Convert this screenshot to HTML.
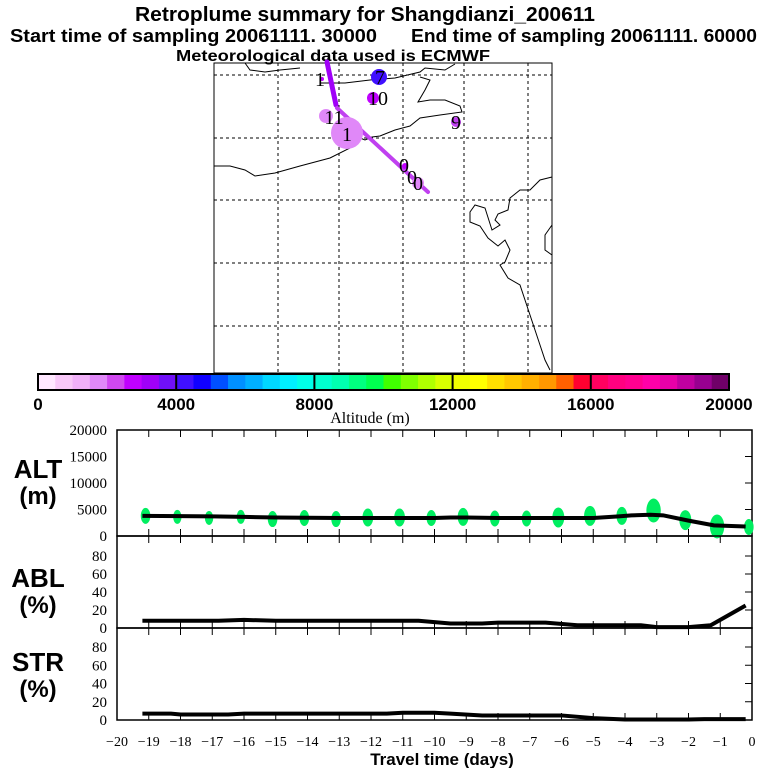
<!DOCTYPE html>
<html><head><meta charset="utf-8"><style>body{margin:0;background:#fff}svg{display:block}</style></head>
<body>
<svg id="chart" width="768" height="768" viewBox="0 0 768 768" xmlns="http://www.w3.org/2000/svg" font-family="Liberation Sans, sans-serif">
<g font-weight="bold" text-anchor="start">
<text x="135" y="21" font-size="20" textLength="460" lengthAdjust="spacingAndGlyphs">Retroplume summary for Shangdianzi_200611</text>
<text x="10" y="42" font-size="18" textLength="367" lengthAdjust="spacingAndGlyphs">Start time of sampling 20061111. 30000</text>
<text x="411" y="42" font-size="18" textLength="346" lengthAdjust="spacingAndGlyphs">End time of sampling 20061111. 60000</text>
<text x="176" y="61" font-size="16" textLength="314" lengthAdjust="spacingAndGlyphs">Meteorological data used is ECMWF</text>
</g>
<g id="map">
<rect x="214" y="63" width="338" height="310" fill="none" stroke="#000" stroke-width="1"/>
<g stroke="#000" stroke-dasharray="3,3" stroke-width="1">
<line x1="278" y1="63" x2="278" y2="373"/><line x1="339" y1="63" x2="339" y2="373"/><line x1="403" y1="63" x2="403" y2="373"/><line x1="464" y1="63" x2="464" y2="373"/><line x1="528" y1="63" x2="528" y2="373"/>
<line x1="214" y1="75" x2="552" y2="75"/><line x1="214" y1="138" x2="552" y2="138"/><line x1="214" y1="200" x2="552" y2="200"/><line x1="214" y1="263" x2="552" y2="263"/><line x1="214" y1="326" x2="552" y2="326"/>
</g>
<g fill="none" stroke="#000" stroke-width="1">
<path d="M245,63 L250,70 L265,72 L280,70 L300,68"/>
<path d="M320,83 L345,83 L370,80 L395,78 L420,72 L425,68 L445,70 L455,64"/>
<path d="M420,77 L430,80 L425,90 L418,102 L430,100 L445,100 L460,106 L462,112 L440,115 L420,118 L410,126 L395,130 L380,136 L372,137 L365,140 L360,138"/>
<path d="M214,166 L230,166 L245,170 L255,176 L275,173 L300,166 L330,158 L350,148 L358,142"/>
<path d="M552,177 L540,180 L530,190 L520,190 L510,198 L508,210 L498,214 L495,220 L500,225 L492,230 L485,208 L475,205 L470,212 L470,222 L480,226 L488,238 L498,246 L505,240 L510,250 L505,262 L500,265 L508,278 L520,285 L525,300 L530,315 L535,330 L540,345 L545,360 L550,370"/>
<path d="M552,225 L545,235 L545,250 L552,255"/>
</g>
<g stroke-linecap="round">
<line x1="327" y1="62" x2="336" y2="105" stroke="#a000f8" stroke-width="5"/>
<line x1="337" y1="108" x2="428" y2="192" stroke="#c040f0" stroke-width="4"/>
</g>
<g font-family="Liberation Serif, serif" font-size="20" text-anchor="middle">
<circle cx="347" cy="133" r="16" fill="#e088f8"/><text x="347" y="141">1</text>
<circle cx="326" cy="116" r="7" fill="#e088f8"/><text x="334" y="124">11</text>
<circle cx="379" cy="77" r="8" fill="#4010ff"/><text x="380" y="84">7</text>
<circle cx="373" cy="98" r="6" fill="#c000ff"/><text x="378" y="105">10</text>
<circle cx="456" cy="122" r="5" fill="#c040f0"/><text x="456" y="129">9</text>
<circle cx="322" cy="79" r="2" fill="#c000ff"/><text x="320" y="86">1</text>
<circle cx="405" cy="166" r="3" fill="#c000ff"/>
<circle cx="418" cy="183" r="6" fill="#e088f8"/>
<text x="404" y="172">0</text>
<text x="412" y="184">0</text><text x="418" y="190">0</text>
</g>
</g>
<g id="colorbar"></g>
<g id="panels"></g>
</svg>
<script>
const cbColors=["#ffe8ff","#f8c8f8","#f0b0f8","#e088f8","#d048f0","#c000ff","#a000f8","#7010f8","#4010ff","#1000ff","#0050ff","#0090ff","#00b0ff","#00d8ff","#00f0ff","#00ffe8","#00ffd0","#00ffb0","#00ff80","#00ff50","#40ff00","#80ff00","#b0ff00","#d8ff00","#f0ff00","#ffff00","#ffe000","#ffc800","#ffb000","#ff9800","#ff6000","#ff0030","#ff0060","#ff0080","#ff0090","#ff00a8","#e800a8","#c000a0","#980090","#700068"];
const cbTicks=[0,4000,8000,12000,16000,20000];
const altDays=[-19.2,-18,-17,-16,-15,-14,-13,-12,-11,-10,-9.5,-9,-8,-7,-6,-5,-4.2,-3.8,-3.2,-2.8,-2,-1.2,-0.2];
const altVals=[3800,3750,3700,3600,3500,3450,3400,3400,3400,3400,3500,3500,3400,3400,3400,3400,3700,3900,4000,3900,2900,2000,1800];
const blobDays=[-19.1,-18.1,-17.1,-16.1,-15.1,-14.1,-13.1,-12.1,-11.1,-10.1,-9.1,-8.1,-7.1,-6.1,-5.1,-4.1,-3.1,-2.1,-1.1,-0.1];
const blobVals=[3800,3600,3400,3600,3200,3400,3200,3500,3500,3400,3600,3300,3300,3500,3800,3800,4800,3000,1800,1700];
const blobSizes=[8,7,7,7,8,8,8,9,9,8,9,8,8,10,10,9,12,10,12,8];
const ablDays=[-19.2,-16.8,-16,-15,-12,-10.5,-9.5,-8.5,-8,-6.5,-5.5,-3.5,-3,-2,-1.3,-0.2];
const ablVals=[8,8,9,8,8,8,5,5,6,6,3,3,1,1,3,25];
const strDays=[-19.2,-18.3,-18,-16.5,-16,-11.5,-11,-10,-9.5,-8.5,-6,-5,-4,-2,-1.5,-0.2];
const strVals=[7,7,6,6,7,7,8,8,7,5,5,2,0.5,0.5,1,1];
const xTicks=[-20,-19,-18,-17,-16,-15,-14,-13,-12,-11,-10,-9,-8,-7,-6,-5,-4,-3,-2,-1,0];
const altTicks=[0,5000,10000,15000,20000];
const pctTicks=[0,20,40,60,80];
const NS="http://www.w3.org/2000/svg";
function mk(parent,tag,attrs,txt){const e=document.createElementNS(NS,tag);for(const k in attrs)e.setAttribute(k,attrs[k]);if(txt!==undefined)e.textContent=txt;parent.appendChild(e);return e;}
const cb=document.getElementById('colorbar');
const cbX=v=>38+(v/20000)*691;
const segW=500;
cbColors.forEach((c,i)=>{const r=mk(cb,'rect',{x:cbX(i*segW),y:374,width:cbX((i+1)*segW)-cbX(i*segW)+0.5,height:16,fill:c});

});
mk(cb,'rect',{x:38,y:374,width:691,height:16,fill:'none',stroke:'#000','stroke-width':2});
cbTicks.forEach(t=>{mk(cb,'line',{x1:cbX(t),y1:374,x2:cbX(t),y2:390,stroke:'#000','stroke-width':2});
const tx=mk(cb,'text',{x:cbX(t),y:410,'font-size':17,'font-weight':'bold','text-anchor':'middle'},String(t));

});
const cbt=mk(cb,'text',{x:370,y:423,'font-size':16,'text-anchor':'middle','font-family':'Liberation Serif, serif'},'Altitude (m)');


const P=document.getElementById('panels');
const X0=117,X1=752;
const xs=d=>X0+(d+20)/20*(X1-X0);
const altY=v=>536-v/20000*106;
const ablY=v=>628-v/80*72;
const strY=v=>720-v/80*73;
function panel(name,top,bot,ticks,yf,label1,label2,ly){
  const g=mk(P,'g',{});
  
  
  mk(g,'rect',{x:X0,y:top,width:X1-X0,height:bot-top,fill:'none',stroke:'#000','stroke-width':1.5});
  xTicks.forEach(t=>{if(t===-20||t===0)return;mk(g,'line',{x1:xs(t),y1:top,x2:xs(t),y2:top+7,stroke:'#000'});mk(g,'line',{x1:xs(t),y1:bot,x2:xs(t),y2:bot-7,stroke:'#000'});});
  ticks.forEach(t=>{const y=yf(t);mk(g,'line',{x1:X1,y1:y,x2:X1-7,y2:y,stroke:'#000'});
    const tl=mk(g,'text',{x:X0-10,y:y+5,'font-size':15,'text-anchor':'end','font-family':'Liberation Serif, serif'},String(t));
    
    });
  const a=mk(g,'text',{x:38,y:ly,'font-size':26,'font-weight':'bold','text-anchor':'middle'},label1);
  
  
  const b=mk(g,'text',{x:38,y:ly+26,'font-size':24,'font-weight':'bold','text-anchor':'middle'},label2);
  
  
  return g;
}
const gAlt=panel('alt',430,536,altTicks,altY,'ALT','(m)',478);
blobDays.forEach((d,i)=>{const e=mk(gAlt,'ellipse',{cx:xs(d),cy:altY(blobVals[i]),rx:blobSizes[i]*0.6,ry:blobSizes[i],fill:'#00ee60'});

});
function line(g,days,vals,yf,nm){const pts=days.map((d,i)=>xs(d)+','+yf(vals[i])).join(' ');
const l=mk(g,'polyline',{points:pts,fill:'none',stroke:'#000','stroke-width':4});

}
line(gAlt,altDays,altVals,altY,'alt-line');
const gAbl=panel('abl',536,628,pctTicks,ablY,'ABL','(%)',587);
line(gAbl,ablDays,ablVals,ablY,'abl-line');
const gStr=panel('str',628,720,pctTicks,strY,'STR','(%)',671);
line(gStr,strDays,strVals,strY,'str-line');
xTicks.forEach(t=>{const tl=mk(P,'text',{x:xs(t),y:746,'font-size':14,'text-anchor':'middle','font-family':'Liberation Serif, serif'},(t<0?'\u2212'+(-t):String(t)));

});
const xt=mk(P,'text',{x:442,y:765,'font-size':17,'font-weight':'bold','text-anchor':'middle'},'Travel time (days)');


</script>
</body></html>
